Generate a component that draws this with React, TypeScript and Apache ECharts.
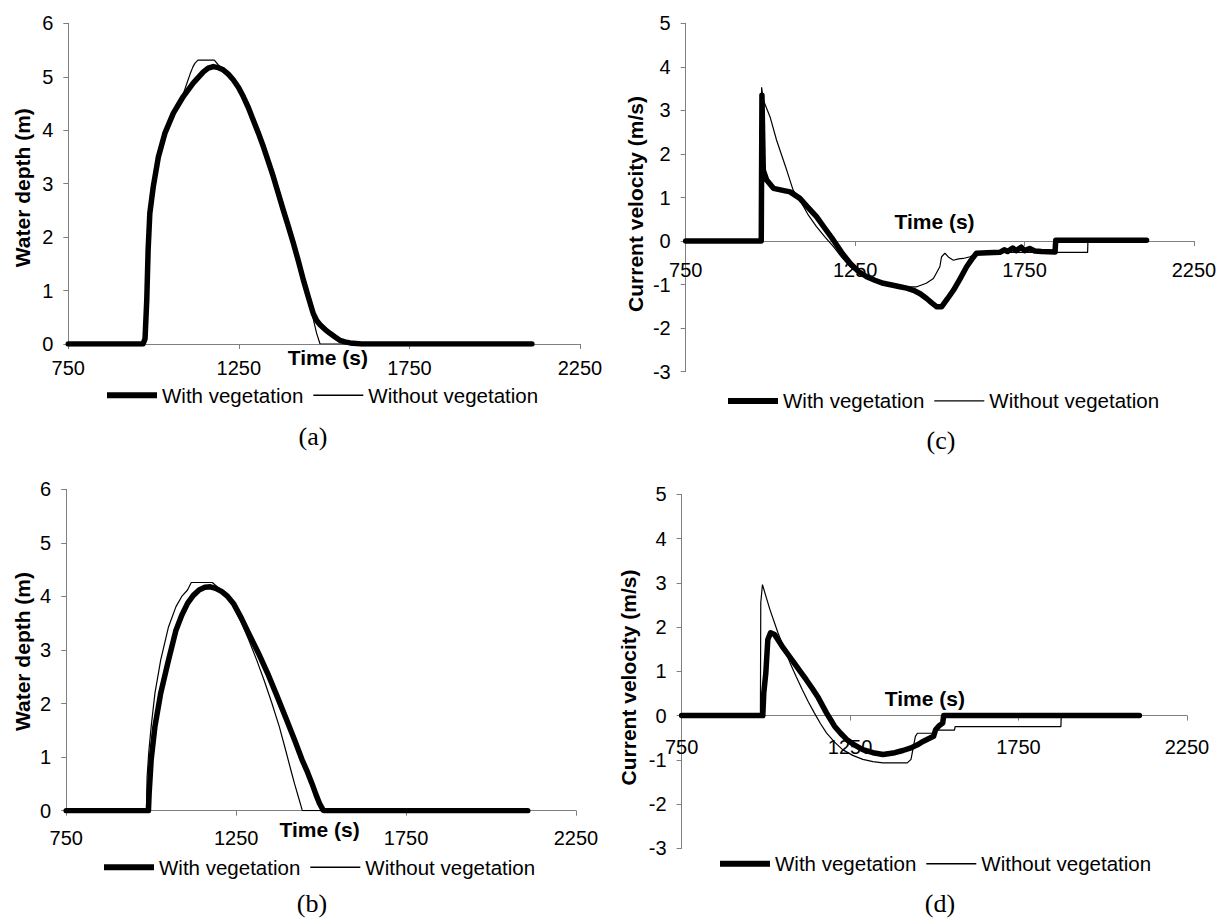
import React, { useEffect, useRef } from "react";
import * as echarts from "echarts";

// ---- Data (time in s, value) ----
const depthA_with: number[][] = [[750,0],[969,0],[975,0.1],[980,0.82],[984,1.76],[989,2.45],[999,2.94],[1014,3.5],[1033,3.94],[1058,4.32],[1087,4.63],[1116,4.88],[1146,5.09],[1160,5.16],[1175,5.19],[1190,5.17],[1204,5.13],[1219,5.05],[1234,4.94],[1249,4.8],[1263,4.63],[1278,4.42],[1292,4.19],[1307,3.95],[1322,3.69],[1336,3.42],[1351,3.13],[1365,2.83],[1380,2.51],[1395,2.2],[1410,1.88],[1425,1.54],[1439,1.2],[1454,0.87],[1468,0.57],[1478,0.44],[1488,0.36],[1503,0.27],[1517,0.2],[1532,0.13],[1546,0.07],[1561,0.04],[1576,0.02],[1610,0],[2109,0]];
const depthA_without: number[][] = [[750,0],[970,0],[977,0.3],[981,0.8],[986,1.7],[991,2.3],[1000,2.8],[1016,3.45],[1035,3.92],[1058,4.3],[1087,4.68],[1100,4.92],[1107,5.05],[1115,5.18],[1121,5.25],[1130,5.31],[1178,5.31],[1190,5.22],[1204,5.13],[1219,5.05],[1234,4.94],[1249,4.8],[1263,4.63],[1278,4.42],[1292,4.19],[1307,3.95],[1322,3.69],[1336,3.42],[1351,3.13],[1365,2.83],[1380,2.51],[1395,2.2],[1410,1.88],[1425,1.54],[1439,1.2],[1454,0.85],[1465,0.55],[1478,0.2],[1488,0],[2109,0]];

const depthB_with: number[][] = [[750,0],[992,0],[994,0.32],[1000,0.95],[1011,1.57],[1028,2.19],[1051,2.81],[1073,3.37],[1090,3.65],[1107,3.87],[1124,4.02],[1141,4.12],[1158,4.17],[1174,4.18],[1190,4.15],[1208,4.09],[1225,4.0],[1242,3.87],[1265,3.6],[1287,3.31],[1315,2.95],[1343,2.56],[1371,2.13],[1399,1.69],[1422,1.32],[1444,0.95],[1460,0.72],[1473,0.51],[1485,0.3],[1495,0.14],[1506,0.01],[1510,0],[2108,0]];
const depthB_without: number[][] = [[750,0],[986,0],[988,0.63],[993,1.1],[1000,1.57],[1011,2.19],[1028,2.81],[1051,3.43],[1073,3.81],[1090,4.0],[1107,4.12],[1118,4.26],[1180,4.26],[1194,4.18],[1208,4.09],[1225,3.96],[1242,3.81],[1265,3.52],[1287,3.19],[1310,2.82],[1332,2.44],[1355,2.01],[1377,1.57],[1394,1.17],[1411,0.76],[1422,0.5],[1433,0.26],[1444,0.02],[1445,0],[2108,0]];

const velC_with: number[][] = [[750,0],[973,0],[975,3.35],[979,1.63],[989,1.4],[1009,1.21],[1033,1.17],[1058,1.13],[1087,0.98],[1110,0.78],[1136,0.56],[1160,0.3],[1186,0.02],[1210,-0.26],[1235,-0.51],[1260,-0.7],[1284,-0.82],[1308,-0.9],[1333,-0.97],[1358,-1.01],[1382,-1.05],[1402,-1.08],[1422,-1.13],[1442,-1.21],[1461,-1.32],[1476,-1.42],[1491,-1.51],[1505,-1.51],[1522,-1.33],[1540,-1.13],[1560,-0.86],[1579,-0.59],[1594,-0.42],[1608,-0.28],[1640,-0.27],[1677,-0.26],[1690,-0.2],[1700,-0.24],[1715,-0.16],[1725,-0.22],[1740,-0.14],[1750,-0.22],[1765,-0.17],[1780,-0.23],[1800,-0.24],[1840,-0.25],[1842,0.02],[2110,0.02]];
const velC_without: number[][] = [[750,0],[973,0],[974,3.53],[979,3.24],[999,2.85],[1018,2.32],[1048,1.63],[1067,1.17],[1087,0.94],[1110,0.62],[1136,0.33],[1160,0.1],[1186,-0.13],[1210,-0.37],[1235,-0.59],[1260,-0.74],[1284,-0.84],[1308,-0.92],[1333,-0.98],[1358,-1.02],[1382,-1.05],[1432,-1.05],[1460,-0.97],[1481,-0.86],[1500,-0.59],[1505,-0.36],[1515,-0.28],[1527,-0.38],[1540,-0.44],[1555,-0.41],[1569,-0.4],[1589,-0.36],[1608,-0.28],[1700,-0.26],[1936,-0.26],[1937,0],[2110,0]];

const velD_with: number[][] = [[750,0],[991,0],[994,0.51],[1000,0.96],[1006,1.72],[1014,1.87],[1026,1.83],[1048,1.57],[1066,1.38],[1084,1.19],[1102,1.0],[1120,0.81],[1138,0.61],[1156,0.4],[1168,0.23],[1180,0.06],[1192,-0.09],[1204,-0.24],[1222,-0.4],[1240,-0.54],[1264,-0.67],[1288,-0.77],[1318,-0.84],[1348,-0.88],[1383,-0.84],[1407,-0.79],[1431,-0.73],[1450,-0.66],[1468,-0.58],[1498,-0.47],[1504,-0.32],[1513,-0.24],[1525,-0.17],[1528,0],[2109,0]];
const velD_without: number[][] = [[750,0],[984,0],[985,2.55],[990,2.96],[1012,2.4],[1036,1.87],[1054,1.52],[1072,1.19],[1090,0.88],[1108,0.59],[1126,0.31],[1144,0.06],[1162,-0.18],[1180,-0.39],[1204,-0.6],[1228,-0.77],[1258,-0.9],[1288,-0.99],[1318,-1.04],[1348,-1.07],[1420,-1.07],[1431,-0.99],[1444,-0.47],[1450,-0.4],[1500,-0.4],[1510,-0.33],[1560,-0.33],[1562,-0.25],[1876,-0.25],[1877,0],[2109,0]];

const seriesNames = ["With vegetation", "Without vegetation"];
const xTitle = "Time (s)";
const depthTitle = "Water depth (m)";
const velTitle = "Current velocity (m/s)";
const panelLabels = ["(a)", "(b)", "(c)", "(d)"];

// ---- Layout ----
const grids = [
  { left: 68.3, top: 23.3, width: 511.7, height: 320.7 }, // a
  { left: 66.2, top: 489.3, width: 509.8, height: 321.4 }, // b
  { left: 685.7, top: 23.3, width: 508.3, height: 348.4 }, // c
  { left: 681.6, top: 494.3, width: 505.3, height: 354 }, // d
];
const xLabelMargin = [14, 17, 19, 21];
const legendPos = [
  { left: 107, centerY: 395 },
  { left: 104, centerY: 867 },
  { left: 728, centerY: 400.7 },
  { left: 720, centerY: 863.5 },
];
const yTitlePos = [
  [22, 187.7],
  [22, 651.5],
  [635, 204],
  [628, 677.5],
];
const xTitlePos = [
  [327.8, 357],
  [319.6, 829.3],
  [934.5, 221.7],
  [924.8, 698.3],
];
const panelLabelPos = [
  [313, 436],
  [312, 903],
  [941, 440],
  [940, 903],
];

const AXIS_COLOR = "#7f7f7f";
const FONT = "Liberation Sans";

export default function App() {
  const ref = useRef<HTMLDivElement>(null);

  useEffect(() => {
    if (!ref.current) return;
    const chart = echarts.init(ref.current, null, { renderer: "svg" });

    const data = [
      [depthA_with, depthA_without],
      [depthB_with, depthB_without],
      [velC_with, velC_without],
      [velD_with, velD_without],
    ];

    const xAxes = grids.map((g, i) => {
      // velocity panels: x axis sits at y = 0 (5/8 of the way down)
      const offset = i < 2 ? 0 : -(g.height * 3) / 8;
      return {
        type: "value",
        gridIndex: i,
        min: 750,
        max: 2250,
        interval: 500,
        position: "bottom",
        offset,
        splitLine: { show: false },
        axisLine: { show: true, onZero: false, lineStyle: { color: AXIS_COLOR, width: 1 } },
        axisTick: { show: true, length: 5, lineStyle: { color: AXIS_COLOR } },
        axisLabel: {
          color: "#000",
          fontSize: 20,
          fontFamily: FONT,
          margin: xLabelMargin[i],
          formatter: (v: number) => String(v),
        },
      };
    });

    const yAxes = grids.map((_, i) => ({
      type: "value",
      gridIndex: i,
      min: i < 2 ? 0 : -3,
      max: i < 2 ? 6 : 5,
      interval: 1,
      splitLine: { show: false },
      axisLine: { show: true, onZero: false, lineStyle: { color: AXIS_COLOR, width: 1 } },
      axisTick: { show: true, length: 5, lineStyle: { color: AXIS_COLOR } },
      axisLabel: { color: "#000", fontSize: 20, fontFamily: FONT, margin: 15, formatter: (v: number) => String(v) },
    }));

    const series: any[] = [];
    data.forEach((pair, i) => {
      series.push({
        name: seriesNames[0],
        type: "line",
        xAxisIndex: i,
        yAxisIndex: i,
        data: pair[0],
        showSymbol: false,
        symbol: "none",
        z: 2,
        lineStyle: { color: "#000", width: 5.5, join: "round", cap: "round" },
        itemStyle: { color: "#000" },
      });
      series.push({
        name: seriesNames[1],
        type: "line",
        xAxisIndex: i,
        yAxisIndex: i,
        data: pair[1],
        showSymbol: false,
        symbol: "none",
        z: 3,
        lineStyle: { color: "#000", width: 1.2 },
        itemStyle: { color: "#000" },
      });
    });

    const legendFont = 20.5;
    const legends = legendPos.map((p) => ({
      left: p.left,
      top: p.centerY - legendFont / 2,
      orient: "horizontal",
      padding: 0,
      itemGap: 10,
      itemWidth: 50,
      itemHeight: 6,
      selectedMode: false,
      textStyle: { color: "#000", fontSize: legendFont, fontFamily: FONT },
      data: [
        { name: seriesNames[0], icon: "path://M0,0H50V6H0Z" },
        { name: seriesNames[1], icon: "path://M0,0H47V1.2H0Z" },
      ],
    }));

    const graphics: any[] = [];
    yTitlePos.forEach((p, i) => {
      graphics.push({
        type: "text",
        x: p[0],
        y: p[1],
        rotation: Math.PI / 2,
        style: {
          text: i < 2 ? depthTitle : velTitle,
          fill: "#000",
          fontSize: 21,
          fontWeight: "bold",
          fontFamily: FONT,
          align: "center",
          verticalAlign: "middle",
        },
      });
    });
    xTitlePos.forEach((p) => {
      graphics.push({
        type: "text",
        x: p[0],
        y: p[1],
        style: {
          text: xTitle,
          fill: "#000",
          fontSize: 21,
          fontWeight: "bold",
          fontFamily: FONT,
          align: "center",
          verticalAlign: "middle",
        },
      });
    });
    panelLabelPos.forEach((p, i) => {
      graphics.push({
        type: "text",
        x: p[0],
        y: p[1],
        style: {
          text: panelLabels[i],
          fill: "#000",
          fontSize: 26,
          fontFamily: "Liberation Serif",
          align: "center",
          verticalAlign: "middle",
        },
      });
    });

    chart.setOption({
      animation: false,
      backgroundColor: "#fff",
      textStyle: { fontFamily: FONT },
      grid: grids.map((g) => ({ ...g, containLabel: false })),
      xAxis: xAxes,
      yAxis: yAxes,
      legend: legends,
      series,
      graphic: graphics,
    });

    return () => chart.dispose();
  }, []);

  return (
    <div
      ref={ref}
      style={{ position: "absolute", left: 0, top: 0, width: 1231, height: 923 }}
    />
  );
}
